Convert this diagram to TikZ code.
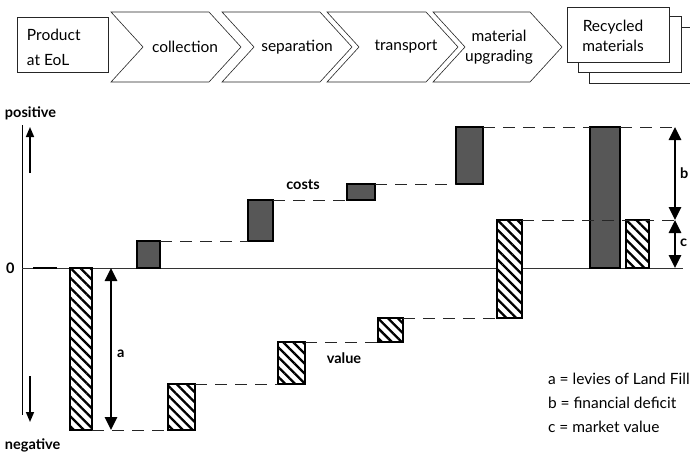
\documentclass[tikz,border=0pt]{standalone}
\usepackage{fontspec}
\setmainfont{Lato}
\usetikzlibrary{arrows.meta,patterns.meta}

\tikzset{
  every node/.style={inner sep=0pt, outer sep=0pt},
  stage/.style={draw=black!85, line width=0.6pt, fill=white},
  boxnode/.style={draw=black!85, line width=0.8pt, fill=white, anchor=north west},
  lbl/.style={font=\fontsize{15.5}{18}\selectfont, align=left},
  axislbl/.style={font=\fontsize{14.5}{17}\selectfont\bfseries},
  costbar/.style={draw=black, line width=1.2pt, fill=black!66, anchor=north west},
  valuebar/.style={draw=black, line width=1.2pt, anchor=north west,
    preaction={fill=white},
    pattern={Lines[angle=-45, distance=7pt, line width=2.3pt]}},
  link/.style={draw=black!85, line width=1pt, dash pattern=on 12pt off 8pt},
  dblarrow/.style={line width=2.8pt, {Triangle[length=13pt,width=12pt]}-{Triangle[length=13pt,width=12pt]}},
  dirarrow/.style={line width=1.6pt, -{Triangle[length=10pt,width=8pt]}},
  legend/.style={font=\fontsize{15.5}{18}\selectfont, anchor=base west},
}

\begin{document}
\begin{tikzpicture}[x=1pt, y=-1pt]
\useasboundingbox (0,0) rectangle (690,455);

% ---- process chain ----
\node[boxnode, minimum width=91pt, minimum height=55pt] (eol) at (17,17) {};
\node[lbl, anchor=base west] (eoltxt1) at (27,40) {Product};
\node[lbl, anchor=base west] (eoltxt2) at (27,65) {at EoL};

\draw[stage] (111,12) -- (209,12) -- (241,47) -- (209,82) -- (111,82) -- (143,47) -- cycle;
\draw[stage] (222,12) -- (320,12) -- (352,47) -- (320,82) -- (222,82) -- (254,47) -- cycle;
\draw[stage] (327,12) -- (426,12) -- (458,47) -- (426,82) -- (327,82) -- (359,47) -- cycle;
\draw[stage] (433,12) -- (530,12) -- (562,47) -- (530,82) -- (433,82) -- (465,47) -- cycle;

\node[lbl] (s1) at (185,47) {collection};
\node[lbl] (s2) at (297,47) {separation};
\node[lbl] (s3) at (406,47) {transport};
\node[lbl, align=center] (s4) at (499,47) {material\\[2pt]upgrading};

\node[boxnode, minimum width=120pt, minimum height=56pt] (rb3) at (589,27) {};
\node[boxnode, minimum width=103pt, minimum height=56pt] (rb2) at (578,16) {};
\node[boxnode, minimum width=102pt, minimum height=55pt] (rb1) at (567,7) {};
\node[lbl, align=center] (rbtxt) at (613,36) {Recycled\\[2pt]materials};

% ---- axis ----
\coordinate (axtop) at (22,125);
\coordinate (axbot) at (22,415);
\draw[line width=0.8pt] (axtop) -- (axbot);
\node[axislbl, anchor=base west] (pos) at (5,117) {positive};
\node[axislbl, anchor=base west] (neg) at (5,449) {negative};
\node[axislbl, anchor=base west] (zero) at (6,273) {0};
\coordinate (upA) at (30,173);
\coordinate (upB) at (30,127);
\coordinate (dnA) at (30,376);
\coordinate (dnB) at (30,422);
\draw[dirarrow] (upA) -- (upB);
\draw[dirarrow] (dnA) -- (dnB);

% zero line
\coordinate (z0) at (22,268);
\coordinate (z1) at (683,268);
\draw[line width=0.7pt, black!80] (z0) -- (z1);
\coordinate (zt0) at (33,268);
\coordinate (zt1) at (57,268);
\draw[line width=2.2pt] (zt0) -- (zt1);

% ---- value steps (hatched) ----
\node[valuebar, minimum width=22pt, minimum height=162pt] (v1) at (70,268) {};
\node[valuebar, minimum width=27pt, minimum height=46pt] (v2) at (168,384) {};
\node[valuebar, minimum width=27pt, minimum height=42pt] (v3) at (278,342) {};
\node[valuebar, minimum width=25pt, minimum height=24pt] (v4) at (378,318) {};
\node[valuebar, minimum width=25pt, minimum height=98pt] (v5) at (497,220) {};
\node[valuebar, minimum width=23pt, minimum height=48pt] (vm) at (626,220) {};

\draw[link] (v1.south east) -- (v2.south west);
\draw[link] (v2.north east) -- (v3.south west);
\draw[link] (v3.north east) -- (v4.south west);
\draw[link] (v4.north east) -- (v5.south west);

\node[axislbl] (valtxt) at (344,358) {value};

% ---- cost steps (grey) ----
\node[costbar, minimum width=23pt, minimum height=27pt] (k1) at (137,241) {};
\node[costbar, minimum width=25pt, minimum height=41pt] (k2) at (248,200) {};
\node[costbar, minimum width=28pt, minimum height=16pt] (k3) at (347,184) {};
\node[costbar, minimum width=27pt, minimum height=57pt] (k4) at (456,127) {};
\node[costbar, minimum width=30pt, minimum height=141pt] (kt) at (590,127) {};

\draw[link] (k1.north east) -- (k2.south west);
\draw[link] (k2.north east) -- (k3.south west);
\draw[link] (k3.north east) -- (k4.south west);
\draw[link] (k4.north east) -- (kt.north west);

\node[axislbl] (costtxt) at (303,185) {costs};

% ---- deficit and market value ----
\coordinate (bTop) at (675,127);
\coordinate (bMid) at (675,220);
\coordinate (bBot) at (675,268);
\draw[link] (kt.north east) -- (bTop);
\draw[link] (v5.north east) -- (bMid);

\draw[dblarrow] (bTop) -- (bMid);
\draw[dblarrow] (bMid) -- (bBot);
\node[axislbl, anchor=west] (btxt) at (680,173) {b};
\node[axislbl, anchor=west] (ctxt) at (680,243) {c};

% levies
\coordinate (aTop) at (111,268);
\coordinate (aBot) at (111,430);
\draw[dblarrow] (aTop) -- (aBot);
\node[axislbl, anchor=west] (atxt) at (117,354) {a};

% ---- legend ----
\node[legend] (la) at (548,384) {a = levies of Land Fill};
\node[legend] (lb) at (548,408) {b = financial deficit};
\node[legend] (lc) at (548,432) {c = market value};
\end{tikzpicture}
\end{document}
